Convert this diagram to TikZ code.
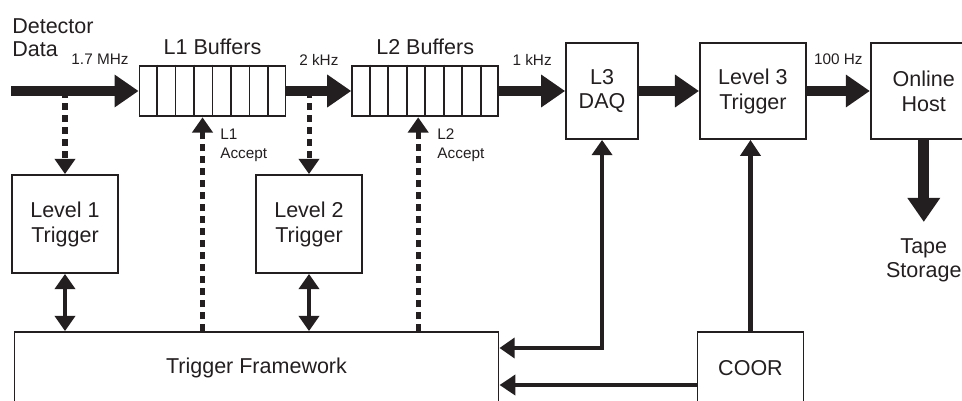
\documentclass[tikz,border=0pt]{standalone}
\usepackage{fontspec}
\setmainfont{Liberation Sans}
\usetikzlibrary{arrows.meta, positioning, calc}
\definecolor{ink}{HTML}{231F20}

\begin{document}
\begin{tikzpicture}[
    x=0.025cm, y=-0.025cm,
    box/.style={draw=ink, line width=1.3pt, minimum width=2.65cm, minimum height=2.4cm, align=center, font=\fontsize{15.3}{17.7}\selectfont, text=ink},
    buffer/.style={draw=ink, line width=1.3pt, minimum width=3.65cm, minimum height=1.27cm, inner sep=0pt},
    lbl/.style={font=\fontsize{15.3}{16.8}\selectfont, text=ink, inner sep=0pt, align=left},
    rate/.style={font=\fontsize{10.9}{13.5}\selectfont, text=ink, inner sep=0pt, align=left},
    bigarrow/.style={draw=ink, line width=0.25cm, -{Triangle[length=0.6cm, width=0.78cm]}},
    dotarrow/.style={draw=ink, line width=0.125cm, dash pattern=on 0.175cm off 0.125cm, -{Triangle[length=0.38cm, width=0.5cm]}},
    linkarrow/.style={draw=ink, line width=0.115cm, -{Triangle[length=0.4cm, width=0.5cm]}},
    bothways/.style={linkarrow, {Triangle[length=0.38cm, width=0.5cm]}-{Triangle[length=0.38cm, width=0.5cm]}}
]
    \useasboundingbox (0,0) rectangle (962,401);

    % data path
    \coordinate (det) at (11,91);
    \node[buffer] (l1buf) at (212.5,91) {};
    \node[buffer, right=1.62cm of l1buf] (l2buf) {};
    \node[box, minimum width=1.8cm, right=1.65cm of l2buf] (l3daq) {L3\\DAQ};
    \node[box, right=1.5cm of l3daq] (l3trig) {Level 3\\Trigger};
    \node[box, right=1.575cm of l3trig] (host) {Online\\Host};
    \foreach \b in {l1buf, l2buf}
        \foreach \i in {1,...,7}
            \draw[ink, line width=1.3pt] ($(\b.north west)!\i/8!(\b.north east)$) -- ($(\b.south west)!\i/8!(\b.south east)$);

    % trigger side
    \node[box, minimum height=2.45cm] (lvl1) at (65,224) {Level 1\\Trigger};
    \node[box, minimum height=2.45cm] (lvl2) at (309,224) {Level 2\\Trigger};
    \node[box, minimum width=12.1cm, minimum height=1.8cm] (tfw) at (256.5,368) {Trigger Framework};
    \node[box, minimum height=1.8cm] (coor) at (750.5,368) {COOR};

    % labels
    \node[lbl, anchor=north west] (detlbl) at (12,18) {Detector\\Data};
    \node[lbl, above=0.25cm of l1buf] (l1lbl) {L1 Buffers};
    \node[lbl, above=0.25cm of l2buf] (l2lbl) {L2 Buffers};
    \node[rate] (r1) at (100,59.5) {1.7 MHz};
    \node[rate] (r2) at ($(l1buf.east)!0.5!(l2buf.west)+(0,-31.5)$) {2 kHz};
    \node[rate] (r3) at ($(l2buf.east)!0.5!(l3daq.west)+(0,-31.5)$) {1 kHz};
    \node[rate] (r4) at ($(l3trig.east)!0.5!(host.west)+(0,-31.5)$) {100 Hz};

    \draw[bigarrow] (det) -- (l1buf);
    \draw[bigarrow] (l1buf) -- (l2buf);
    \draw[bigarrow] (l2buf) -- (l3daq);
    \draw[bigarrow] (l3daq) -- (l3trig);
    \draw[bigarrow] (l3trig) -- (host);
    \coordinate (tape) at ($(host.south)+(0,82)$);
    \draw[bigarrow, line width=0.28cm] (host) -- (tape);
    \node[lbl, align=center, below=0.42cm of tape] (tapelbl) {Tape\\Storage};

    % accepts
    \coordinate (acc1) at ($(l1buf.south)+(-10,0)$);
    \coordinate (acc2) at ($(l2buf.south)+(-7,0)$);
    \draw[dotarrow] (lvl1.north |- det) -- (lvl1);
    \draw[dotarrow] (lvl2.north |- l1buf.east) -- (lvl2);
    \draw[dotarrow] (acc1 |- tfw.north) -- (acc1);
    \draw[dotarrow] (acc2 |- tfw.north) -- (acc2);
    \node[rate, anchor=north west] (a1lbl) at ($(acc1)+(17.5,11)$) {L1\\Accept};
    \node[rate, anchor=north west] (a2lbl) at ($(acc2)+(19,11)$) {L2\\Accept};

    \draw[bothways] (lvl1) -- (lvl1.south |- tfw.north);
    \draw[bothways] (lvl2) -- (lvl2.south |- tfw.north);
    \draw[bothways] (l3daq) |- ([yshift=0.5cm]tfw.east);
    \draw[linkarrow] (coor) -- (coor.north |- l3trig.south);
    \draw[linkarrow] ([yshift=-0.425cm]coor.west) -- ([yshift=-0.425cm]tfw.east);
\end{tikzpicture}
\end{document}
